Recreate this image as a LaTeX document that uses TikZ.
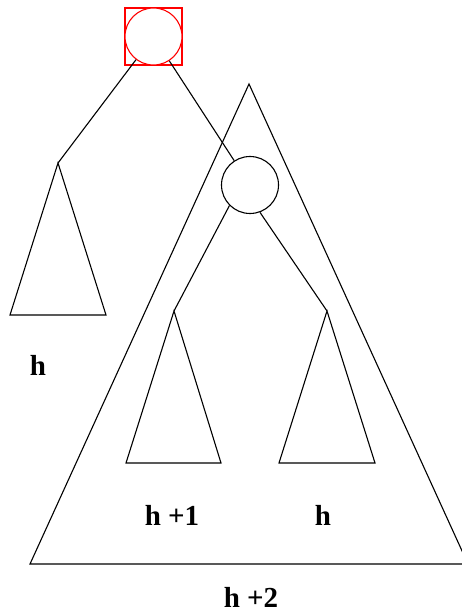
\documentclass[tikz,border=0pt]{standalone}
\usepackage{fontspec}
\setmainfont{Liberation Serif}
\usepackage{tikz}
\usetikzlibrary{positioning}

\begin{document}
\begin{tikzpicture}[
  x=1pt,y=-1pt,
  line width=1.1pt,
  knot/.style={draw,circle,inner sep=0pt,minimum size=57pt,fill=white},
  redbox/.style={draw=red,rectangle,inner sep=0pt,minimum size=57pt},
  lbl/.style={font=\bfseries\fontsize{29}{34}\selectfont,inner sep=0pt}
]
  \useasboundingbox (0,0) rectangle (462,612);
  % subtrees
  \coordinate (lt) at (58,163);
  \coordinate (ta) at (174,311);
  \coordinate (tb) at (327,311);
  \coordinate (big) at (249,84);
  \draw (big) -- (468,564) -- (30,564) -- cycle;
  \draw (lt) -- (106,315) -- (10,315) -- cycle;
  \draw (ta) -- (221,463) -- (126,463) -- cycle;
  \draw (tb) -- (375,463) -- (279,463) -- cycle;
  % nodes
  \node[redbox] (sq) at (153.5,36.5) {};
  \node[knot,draw=red] (root) at (sq) {};
  \node[knot] (mid) at (250,185) {};
  \draw (root) -- (lt);
  \draw (root) -- (mid);
  \draw (mid.225) -- (ta);
  \draw (mid.-70) -- (tb);
  % heights
  \node[lbl] (hl) at (38,365) {h};
  \node[lbl] (ha) at (172,515) {h +1};
  \node[lbl] (hb) at (323,515) {h};
  \node[lbl] (hc) at (251,597) {h +2};
\end{tikzpicture}
\end{document}
